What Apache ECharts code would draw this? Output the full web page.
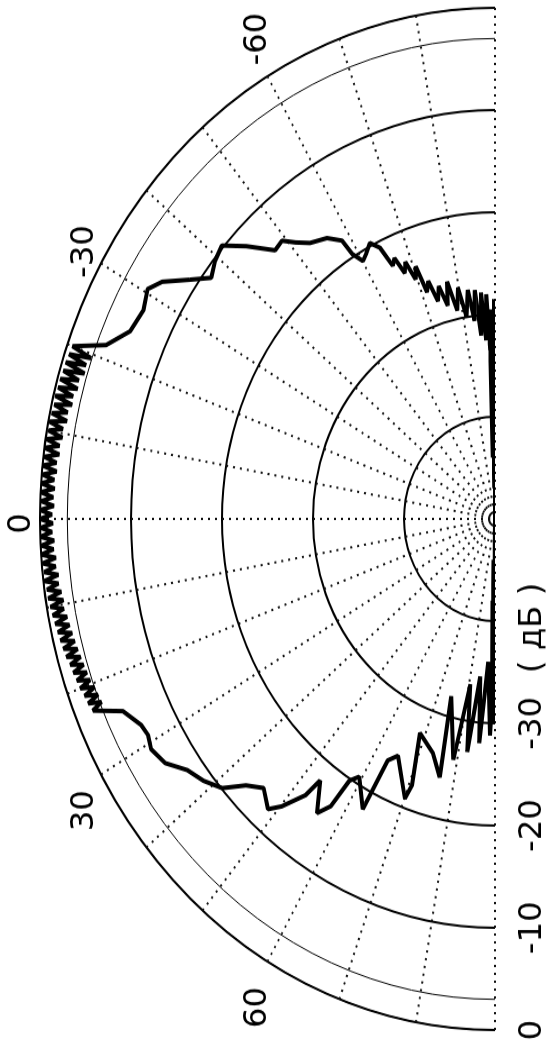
<!DOCTYPE html>
<html>
<head>
<meta charset="utf-8">
<script src="https://cdn.jsdelivr.net/npm/echarts@6/dist/echarts.min.js"></script>
<style>
  html, body { margin: 0; padding: 0; background: #fff; overflow: hidden; }
  /* the plot is drawn upright, then turned on its side and stretched like the scan */
  #chart {
    position: absolute; left: 0; top: 0;
    width: 933px; height: 552px;
    transform-origin: 0 0;
    transform: translate(0px, 1048px) rotate(-90deg) scaleX(1.1233);
  }
</style>
</head>
<body>
<div id="chart"></div>
<script>
// radiation pattern: angle (deg) and level (dB)
var angleDeg = [
  -90, -89.7, -88.6, -88.9, -87.6, -88.2, -87.5, -86.8, -86.0, -85.2, -84.3,
  -83.4, -82.4, -81.0, -79.8, -78.5, -77.2, -76.0, -74.8, -73.6, -72.5,
  -71.4, -70.6, -69.6, -68.6, -67.6, -66.6, -65.6, -64.5, -63.0, -61.5,
  -60.1, -58.8, -58.3, -56.1, -53.0, -51.0, -49.3, -47.4, -44.3, -41.7,
  -39.4, -37.1, -34.9, -32.4, -30.5, -27.9, -24.6, -21.7,
  -20, -19.5, -19, -18.5, -18, -17.5, -17, -16.5, -16, -15.5,
  -15, -14.5, -14, -13.5, -13, -12.5, -12, -11.5, -11, -10.5,
  -10, -9.5, -9, -8.5, -8, -7.5, -7, -6.5, -6, -5.5,
  -5, -4.5, -4, -3.5, -3, -2.5, -2, -1.5, -1, -0.5,
  0, 0.5, 1, 1.5, 2, 2.5, 3, 3.5, 4, 4.5,
  5, 5.5, 6, 6.5, 7, 7.5, 8, 8.5, 9, 9.5,
  10, 10.5, 11, 11.5, 12, 12.5, 13, 13.5, 14, 14.5,
  15, 15.5, 16, 16.5, 17, 17.5, 18, 18.5, 19, 19.5,
  20, 20.5, 21, 21.5, 22, 22.5, 23,
  24.7, 27.4, 29.0, 30.8, 33.4, 36.0, 38.7, 41.3, 43.6, 46.0,
  48.7, 50.2, 52.4, 53.1, 55.8, 57.3, 58.0, 59.4, 62.9, 63.5,
  65.3, 70.1, 70.7, 68.5, 73.4, 76.5, 74.5, 79.0, 80.5, 82.4,
  84.0, 85.5, 87.0, 88.5, 89.3, 89.8, 88.0, 89.0, 87.8, 89.5, 90
];
var levelDb = [
  -50, -28.5, -47, -29.5, -44, -33.5, -28.0, -32.5, -27.8, -32.0, -27.5,
  -30.5, -27.4, -30.0, -27.0, -29.2, -26.2, -28.5, -26.4, -27.8, -25.6,
  -26.6, -23.8, -25.0, -23.0, -24.0, -22.2, -22.8, -20.6, -19.7, -20.4,
  -20.9, -19.7, -18.0, -16.9, -16.2, -15.2, -14.1, -14.3, -11.8, -9.8,
  -10.2, -10.9, -9.1, -6.7, -5.7, -6.3, -5.9, -4.0,
  -0.6, -2.9, -0.5, -2.6, -0.4, -2.7, -0.4, -2.3, -0.3, -2.4,
  -0.3, -2.1, -0.2, -2.2, -0.3, -1.9, -0.2, -2.0, -0.1, -1.7,
  -0.2, -1.8, -0.1, -1.6, 0, -1.7, -0.1, -1.5, 0, -1.6,
  -0.1, -1.4, 0, -1.5, 0, -1.4, -0.1, -1.5, 0, -1.3,
  0, -1.4, -0.1, -1.3, 0, -1.5, -0.1, -1.4, 0, -1.6,
  -0.1, -1.5, -0.2, -1.7, -0.1, -1.6, -0.3, -1.8, -0.3, -1.9,
  -0.4, -1.8, -0.5, -2.0, -0.6, -2.1, -0.7, -2.2, -0.8, -2.3,
  -0.9, -2.4, -1.0, -2.5, -1.2, -2.6, -1.3, -2.7, -1.4, -2.8,
  -1.5, -3.0, -1.7, -3.1, -1.8, -3.2, -2.0,
  -5.0, -6.2, -6.4, -6.0, -6.6, -8.2, -9.0, -10.1, -12.2, -13.4,
  -12.2, -13.4, -15.9, -18.0, -15.2, -16.6, -19.8, -20.7, -18.1, -23.6,
  -24.5, -20.9, -22.4, -27.5, -26.1, -24.0, -32.0, -26.0, -33.6, -27.0,
  -34.5, -28.0, -36.0, -28.8, -34.0, -30.0, -42.0, -31.5, -46.0, -38.0, -50
];

var angleLabelValues = [-60, -30, 0, 30, 60];
var angleLabelNudge = [-6, -22, -8, 0, 0];   // left padding per label
var angleLabelNudgeR = [0, 0, 0, 5, 7];      // right padding per label
var radiusTickValues = [-40, -30, -20, -10, 0];
var radiusTickText = ['( дБ )', '-30', '-20', '-10', '0'];
var halfPowerLevel = -3;

var labelFont = {
  fontFamily: "'Liberation Sans Narrow', 'DejaVu Sans Condensed', sans-serif",
  fontSize: 32,
  color: '#000'
};

var pattern = angleDeg.map(function (a, i) { return [levelDb[i], a]; });

var angleRich = {};
angleLabelValues.forEach(function (v, i) {
  angleRich['a' + i] = { padding: [0, angleLabelNudgeR[i], 0, angleLabelNudge[i]] };
});

var hidden = {
  axisLine: { show: false },
  axisTick: { show: false },
  axisLabel: { show: false },
  splitLine: { show: false }
};
// -90 on the right, 0 on top, +90 on the left of the upright plot
var halfPlane = { startAngle: 0, endAngle: 180, clockwise: false };

var chart = echarts.init(document.getElementById('chart'));
chart.setOption({
  animation: false,
  polar: [
    { center: [471, 495], radius: 455 },
    { center: [471, 495], radius: 455 },
    { center: [471, 495], radius: 455 }
  ],
  angleAxis: [
    Object.assign({
      polarIndex: 0,
      type: 'value', min: -90, max: 90, interval: 10,
      axisLine: { show: false },
      axisTick: { show: false },
      axisLabel: Object.assign({
        margin: 18,
        lineHeight: 1,
        rich: angleRich,
        formatter: function (v) {
          var k = angleLabelValues.indexOf(v);
          return k >= 0 ? '{a' + k + '|' + v + '}' : '';
        }
      }, labelFont),
      splitLine: { show: true, lineStyle: { color: '#111', width: 2, type: [2, 5] } }
    }, halfPlane),
    // carries the dB scale along the left half of the base line
    Object.assign({ polarIndex: 1, type: 'value', min: -90, max: 90,
      startAngle: 180, endAngle: 0, clockwise: true, inverse: true }, hidden),
    Object.assign({ polarIndex: 2, type: 'value', min: -90, max: 90 }, halfPlane, hidden)
  ],
  radiusAxis: [
    {
      polarIndex: 0,
      type: 'value', min: -50, max: 0, interval: 10,
      axisLine: { show: false },
      axisTick: { show: false },
      axisLabel: { show: false },
      splitLine: { show: true, lineStyle: { color: '#000', width: 2 } }
    },
    {
      polarIndex: 1,
      type: 'value', min: -50, max: 0, interval: 10,
      axisLine: { show: false },
      axisTick: { show: false },
      splitLine: { show: false },
      axisLabel: Object.assign({
        margin: 22,
        rich: { unit: { padding: [0, 6, 0, -6] } },
        formatter: function (v) {
          var k = radiusTickValues.indexOf(v);
          if (k < 0) return '';
          return k === 0 ? '{unit|' + radiusTickText[k] + '}' : radiusTickText[k];
        }
      }, labelFont)
    },
    {
      // -3 dB reference ring
      polarIndex: 2,
      type: 'value', min: -50, max: 0, interval: halfPowerLevel + 50,
      axisLine: { show: false },
      axisTick: { show: false },
      axisLabel: { show: false },
      splitLine: { show: true, lineStyle: { color: '#000', width: 1 } }
    }
  ],
  series: [{
    type: 'line',
    coordinateSystem: 'polar',
    polarIndex: 0,
    data: pattern,
    symbol: 'none',
    clip: false,
    lineStyle: { color: '#000', width: 4 }
  }]
});
</script>
</body>
</html>
